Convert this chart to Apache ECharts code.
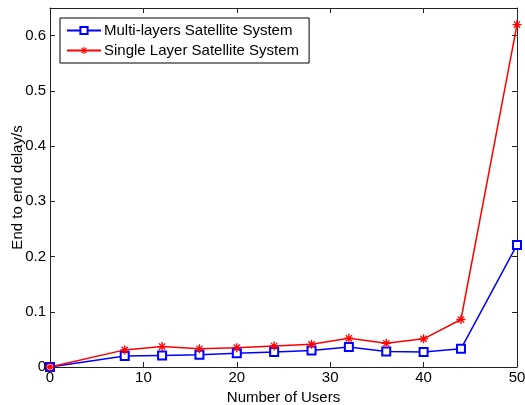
<!DOCTYPE html>
<html>
<head>
<meta charset="utf-8">
<script src="https://cdn.jsdelivr.net/npm/echarts@6/dist/echarts.min.js"></script>
<style>
  html, body { margin: 0; padding: 0; background: #fff; }
  #chart { width: 525px; height: 405px; }
</style>
</head>
<body>
<div id="chart"></div>
<script>
const users = [0, 8, 12, 16, 20, 24, 28, 32, 36, 40, 44, 50];
const multiLayer = [0, 0.020, 0.021, 0.022, 0.025, 0.027, 0.030, 0.036, 0.028, 0.027, 0.033, 0.221];
const singleLayer = [0, 0.031, 0.037, 0.033, 0.035, 0.038, 0.041, 0.052, 0.043, 0.051, 0.086, 0.62];
const seriesNames = ['Multi-layers Satellite System', 'Single Layer Satellite System'];

// MATLAB-style asterisk (+ and x overlapped)
const asterisk = 'path://M8.5 0L11.5 0L11.5 20L8.5 20Z M0 8.5L20 8.5L20 11.5L0 11.5Z ' +
  'M4 2L18 16L16 18L2 4Z M18 4L4 18L2 16L16 2Z';

const font = 'Liberation Sans, Arial, sans-serif';
const chart = echarts.init(document.getElementById('chart'));

const pairs = arr => users.map((u, i) => [u, arr[i]]);

// top / right axes only close the box
const boxAxis = {
  axisLine: { show: true, onZero: false, lineStyle: { color: '#222' } },
  axisLabel: { show: false },
  splitLine: { show: false },
  axisTick: { inside: true, length: 5, lineStyle: { color: '#222' } }
};

chart.setOption({
  animation: false,
  backgroundColor: '#fff',
  grid: { left: 50, right: 8, top: 8, bottom: 38, containLabel: false, outerBoundsMode: 'none' },
  legend: {
    orient: 'vertical',
    left: 60,
    top: 18,
    padding: [5, 10, 5, 6],
    itemGap: 5,
    itemWidth: 34,
    itemHeight: 9,
    borderColor: '#000',
    borderWidth: 1,
    borderRadius: 0,
    backgroundColor: '#fff',
    textStyle: { fontFamily: font, fontSize: 15, color: '#000', padding: [0, 0, 0, -2] },
    data: seriesNames
  },
  xAxis: [{
    type: 'value', min: 0, max: 50, interval: 10,
    name: 'Number of Users', nameLocation: 'middle', nameGap: 19,
    nameTextStyle: { fontFamily: font, fontSize: 15, color: '#000' },
    axisLine: { show: true, onZero: false, lineStyle: { color: '#222' } },
    axisTick: { inside: true, length: 5, lineStyle: { color: '#222' } },
    axisLabel: { fontFamily: font, fontSize: 15, color: '#000', margin: 3 },
    splitLine: { show: false }
  }, Object.assign({ type: 'value', position: 'top', min: 0, max: 50, interval: 10 }, boxAxis)],
  yAxis: [{
    type: 'value', min: 0, max: 0.65, interval: 0.1,
    name: 'End to end delay/s', nameLocation: 'middle', nameGap: 25, nameMoveOverlap: false,
    nameTextStyle: { fontFamily: font, fontSize: 15, color: '#000' },
    axisLine: { show: true, onZero: false, lineStyle: { color: '#222' } },
    axisTick: { inside: true, length: 5, lineStyle: { color: '#222' } },
    axisLabel: { fontFamily: font, fontSize: 15, color: '#000', margin: 4,
      formatter: v => Math.abs(v * 10 - Math.round(v * 10)) > 1e-6 ? '' : String(+v.toFixed(1)) },
    splitLine: { show: false }
  }, Object.assign({ type: 'value', position: 'right', min: 0, max: 0.65, interval: 0.1 }, boxAxis)],
  series: [{
    name: seriesNames[0],
    type: 'line',
    data: pairs(multiLayer),
    symbol: 'emptyRect',
    symbolSize: 8,
    showAllSymbol: true,
    color: '#0000ff',
    lineStyle: { width: 1.5, color: '#0000ff' },
    itemStyle: { color: '#0000ff', borderWidth: 1.3 }
  }, {
    name: seriesNames[1],
    type: 'line',
    data: pairs(singleLayer),
    symbol: asterisk,
    symbolSize: 9,
    showAllSymbol: true,
    color: '#ff0000',
    lineStyle: { width: 1.5, color: '#ff0000' },
    itemStyle: { color: '#ff0000' }
  }]
});
</script>
</body>
</html>
